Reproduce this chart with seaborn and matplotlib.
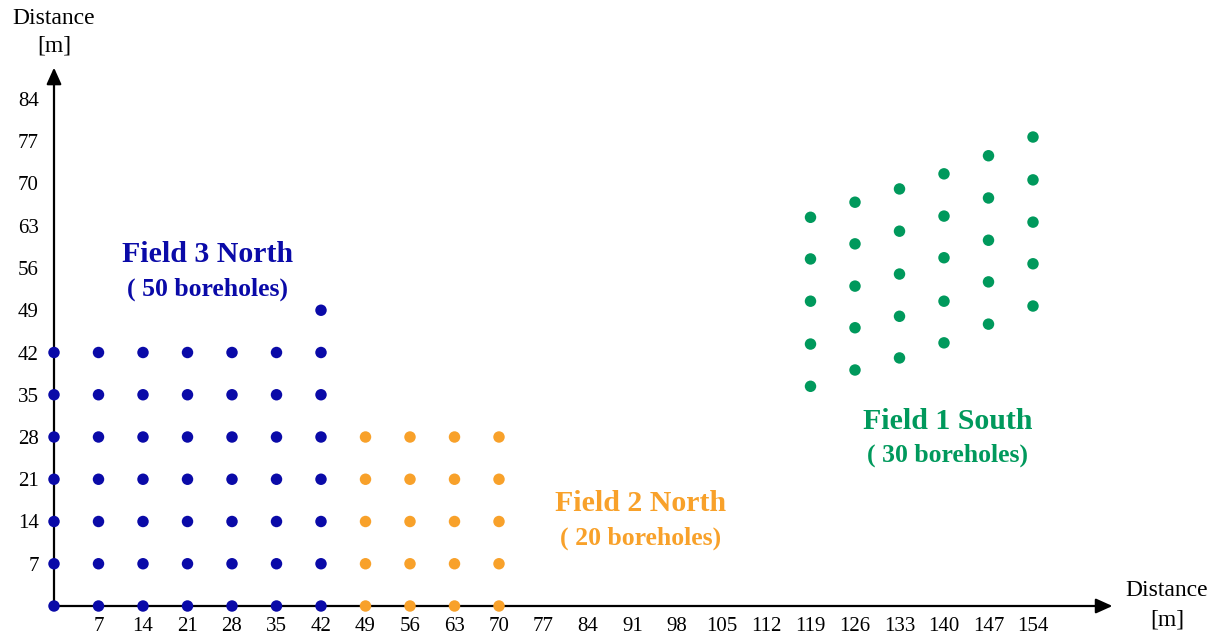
import numpy as np
import pandas as pd
import matplotlib
matplotlib.use("Agg")
import matplotlib.pyplot as plt
import seaborn as sns

# tick labels
x_ticks = [7, 14, 21, 28, 35, 42, 49, 56, 63, 70, 77, 84, 91, 98, 105, 112, 119, 126, 133, 140, 147, 154]
y_ticks = [7, 14, 21, 28, 35, 42, 49, 56, 63, 70, 77, 84]

# Field 3 North: regular grid + one extra borehole
f3_cols = [0, 7, 14, 21, 28, 35, 42]
f3_rows = [0, 7, 14, 21, 28, 35, 42]
f3_extra_x = [42]
f3_extra_y = [49]

# Field 2 North
f2_cols = [49, 56, 63, 70]
f2_rows = [0, 7, 14, 21, 28]

# Field 1 South: skewed columns
f1_cols = [119, 126, 133, 140, 147, 154]
f1_y = [
    [36.4, 43.4, 50.5, 57.5, 64.4],
    [39.1, 46.1, 53.0, 60.0, 66.9],
    [41.1, 48.0, 55.0, 62.1, 69.1],
    [43.6, 50.5, 57.7, 64.6, 71.6],
    [46.7, 53.7, 60.6, 67.6, 74.6],
    [49.7, 56.7, 63.6, 70.6, 77.7],
]

colors = {"Field 3 North": "#0a0aa8", "Field 2 North": "#f8a12a", "Field 1 South": "#00995c"}

rows = []
for x in f3_cols:
    for y in f3_rows:
        rows.append((x, y, "Field 3 North"))
for x, y in zip(f3_extra_x, f3_extra_y):
    rows.append((x, y, "Field 3 North"))
for x in f2_cols:
    for y in f2_rows:
        rows.append((x, y, "Field 2 North"))
for x, ys in zip(f1_cols, f1_y):
    for y in ys:
        rows.append((x, y, "Field 1 South"))
df = pd.DataFrame(rows, columns=["x", "y", "field"])

sns.set_style("white")
plt.rcParams["font.family"] = ["Liberation Serif", "DejaVu Serif"]
plt.rcParams["text.color"] = "black"
plt.rcParams["xtick.color"] = "black"
plt.rcParams["ytick.color"] = "black"

fig = plt.figure(figsize=(12.09, 6.35), dpi=100)
ax = fig.add_axes([54 / 1209, 29 / 635, 979 / 1209, 507 / 635])
ax.set_xlim(0, 154)
ax.set_ylim(0, 84)
for s in ax.spines.values():
    s.set_visible(False)

# axes arrows
arrow = dict(arrowstyle="-|>,head_length=1.0,head_width=0.45", color="black", lw=1.6,
             shrinkA=0, shrinkB=0)
ax.annotate("", xy=(166.5, 0), xytext=(0, 0), annotation_clip=False, arrowprops=arrow)
ax.annotate("", xy=(0, 89.2), xytext=(0, 0), annotation_clip=False, arrowprops=arrow)

sns.scatterplot(data=df, x="x", y="y", hue="field", palette=colors, s=68, linewidth=0,
                legend=False, ax=ax, clip_on=False, zorder=3)

ax.set_xticks(x_ticks)
ax.set_xticklabels([str(t) for t in x_ticks])
ax.set_yticks(y_ticks)
ax.set_yticklabels([str(t) for t in y_ticks])
ax.tick_params(length=0, labelsize=15, colors="black")
ax.tick_params(axis="x", pad=8)
ax.tick_params(axis="y", pad=11)
ax.set_xlabel("")
ax.set_ylabel("")

# axis titles
fig.text(54 / 1209, 1 - 18 / 635, "Distance", ha="center", va="center", fontsize=17)
fig.text(54 / 1209, 1 - 46 / 635, "[m]", ha="center", va="center", fontsize=17)
fig.text(1167 / 1209, 1 - 591 / 635, "Distance", ha="center", va="center", fontsize=17)
fig.text(1167 / 1209, 1 - 620 / 635, "[m]", ha="center", va="center", fontsize=17)

# field labels
labels = [
    ("Field 3 North", "( 50 boreholes)", 24.2, 58.3, 52.5),
    ("Field 2 North", "( 20 boreholes)", 92.2, 16.9, 11.3),
    ("Field 1 South", "( 30 boreholes)", 140.6, 30.5, 24.9),
]
for name, sub, lx, ly1, ly2 in labels:
    ax.text(lx, ly1, name, ha="center", va="center", fontsize=21.5, fontweight="bold", color=colors[name])
    ax.text(lx, ly2, sub, ha="center", va="center", fontsize=18.5, fontweight="bold", color=colors[name])

fig.savefig("out.png", dpi=100)
